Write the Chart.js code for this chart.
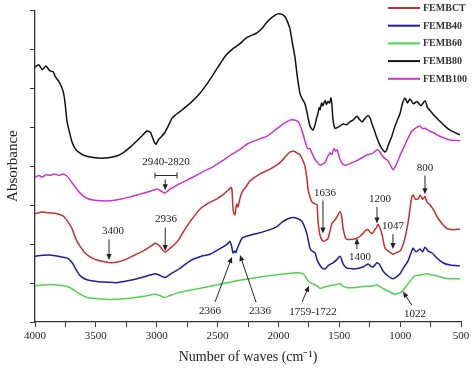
<!DOCTYPE html>
<html lang="en">
<head>
    <meta charset="UTF-8">
    <title>FTIR spectra</title>
    <script src="https://cdn.jsdelivr.net/npm/chart.js"></script>
    <style>
        body { margin: 0; background: #fff; }
        canvas { display: block; }
    </style>
</head>
<body>
    <canvas id="ftir" width="474" height="368"></canvas>

    <script>
        // wavenumbers (cm-1) and absorbance (arbitrary offset units) per sample
        const fembctWave = [4000,3940,3877,3820,3770,3740,3715,3696,3675,3655,3620,3589,3540,3491,3440,3384,3320,3244,3180,3113,3060,3014,2995,2973,2950,2932,2910,2891,2850,2817,2784,2720,2644,2575,2505,2450,2414,2390,2382,2373,2365,2357,2348,2340,2332,2315,2299,2260,2234,2150,2069,1987,1940,1905,1870,1840,1823,1800,1782,1765,1757,1740,1724,1700,1683,1675,1660,1634,1610,1593,1575,1560,1540,1519,1494,1480,1469,1450,1437,1400,1355,1330,1305,1285,1264,1245,1231,1200,1182,1165,1149,1124,1090,1059,1030,1001,980,960,935,919,905,894,875,853,835,815,796,780,755,720,697,650,615,560,508];
        const fembctAbs = [2.78,2.82,2.80,2.78,2.72,2.62,2.50,2.40,2.22,2.07,1.90,1.77,1.66,1.59,1.55,1.52,1.54,1.62,1.72,1.82,1.92,2.02,2.00,1.94,1.85,1.79,1.84,1.89,2.00,2.12,2.30,2.60,2.90,3.05,3.16,3.28,3.38,3.45,3.41,2.90,2.78,2.75,2.95,3.03,2.95,3.18,3.33,3.50,3.62,3.80,3.92,4.09,4.25,4.36,4.38,4.32,4.29,4.15,4.00,3.66,3.41,3.20,3.08,3.03,3.01,2.60,2.25,2.07,2.10,2.14,2.35,2.53,2.60,2.70,2.83,2.70,2.40,2.16,2.12,2.12,2.15,2.20,2.27,2.35,2.37,2.30,2.27,2.40,2.50,2.40,2.25,1.89,1.80,1.74,1.78,1.82,1.95,2.15,2.55,2.90,3.20,3.26,3.15,3.16,3.25,3.15,3.22,3.08,3.01,2.85,2.70,2.50,2.40,2.37,2.38];

        const femb40Wave = [4000,3940,3877,3800,3737,3710,3688,3660,3630,3580,3491,3400,3326,3250,3162,3080,3014,2975,2932,2891,2850,2817,2726,2640,2562,2480,2420,2398,2385,2373,2360,2350,2340,2299,2240,2176,2069,2012,1962,1920,1880,1840,1806,1780,1765,1741,1724,1700,1683,1658,1640,1617,1590,1552,1520,1494,1480,1469,1440,1400,1387,1340,1305,1264,1240,1223,1190,1170,1141,1100,1059,1030,1001,970,935,894,870,837,815,796,770,738,700,648,590,508];
        const femb40Abs = [1.69,1.71,1.72,1.68,1.64,1.58,1.49,1.33,1.19,1.09,1.04,1.02,1.01,1.05,1.11,1.18,1.24,1.20,1.14,1.22,1.30,1.36,1.57,1.68,1.74,1.88,2.00,2.07,1.95,1.77,1.82,1.78,1.87,2.15,2.22,2.27,2.37,2.45,2.58,2.65,2.68,2.65,2.58,2.40,2.25,1.90,1.82,1.78,1.60,1.45,1.38,1.36,1.45,1.52,1.60,1.69,1.60,1.49,1.38,1.37,1.36,1.38,1.41,1.49,1.43,1.41,1.52,1.48,1.31,1.18,1.11,1.16,1.24,1.40,1.57,1.89,1.80,1.87,1.80,1.92,1.82,1.77,1.65,1.52,1.46,1.44];

        const femb60Wave = [4000,3940,3877,3800,3737,3700,3655,3610,3573,3500,3408,3300,3219,3100,3014,2975,2932,2891,2817,2720,2620,2480,2340,2200,2069,1960,1880,1830,1798,1775,1757,1720,1683,1658,1620,1576,1530,1494,1470,1437,1380,1305,1240,1190,1160,1141,1090,1042,1010,984,960,935,905,878,840,815,779,740,697,640,590,508];
        const femb60Abs = [0.93,0.95,0.96,0.94,0.91,0.86,0.76,0.68,0.63,0.60,0.58,0.59,0.61,0.66,0.71,0.68,0.63,0.68,0.76,0.82,0.88,0.97,1.06,1.13,1.19,1.23,1.26,1.26,1.24,1.15,1.06,0.98,0.93,0.86,0.90,0.93,0.96,0.98,0.92,0.88,0.88,0.91,0.92,0.95,0.90,0.86,0.78,0.71,0.74,0.78,0.88,0.98,1.10,1.19,1.20,1.22,1.24,1.21,1.18,1.13,1.11,1.11];

        const femb80Wave = [4000,3970,3940,3910,3880,3850,3836,3800,3770,3754,3737,3715,3696,3670,3647,3600,3523,3450,3384,3330,3277,3220,3162,3120,3080,3050,3039,3020,3006,2985,2957,2935,2915,2891,2874,2850,2817,2726,2650,2587,2530,2480,2430,2382,2320,2258,2176,2130,2094,2050,2012,1975,1946,1925,1905,1885,1864,1845,1823,1800,1782,1760,1741,1716,1700,1685,1675,1665,1658,1645,1635,1617,1605,1593,1580,1568,1560,1552,1535,1500,1469,1440,1410,1387,1355,1335,1313,1290,1264,1245,1231,1210,1190,1160,1124,1110,1100,1070,1042,1020,1001,980,960,940,919,890,862,830,796,775,755,720,673,630,590,550,508];
        const femb80Abs = [6.54,6.60,6.48,6.57,6.45,6.42,6.31,6.15,5.93,5.65,5.15,4.85,4.62,4.45,4.37,4.28,4.22,4.20,4.22,4.26,4.34,4.48,4.65,4.78,4.90,4.86,4.77,4.62,4.56,4.68,4.77,4.85,4.97,5.12,5.23,5.30,5.38,5.61,5.85,6.11,6.38,6.62,6.85,6.99,7.13,7.30,7.42,7.55,7.70,7.82,7.90,7.90,7.83,7.70,7.52,7.15,6.79,6.30,5.86,5.70,5.60,5.30,5.03,4.92,5.05,5.25,5.35,5.50,5.45,5.62,5.55,5.68,5.58,5.66,5.62,5.75,5.55,5.20,4.97,5.02,5.08,5.06,5.14,5.18,5.28,5.20,5.13,5.22,5.30,5.22,5.08,4.90,4.72,4.50,4.36,4.42,4.52,4.75,5.03,5.20,5.35,5.62,5.75,5.62,5.72,5.60,5.66,5.55,5.68,5.50,5.43,5.30,5.15,5.02,4.92,4.86,4.80];

        const femb100Wave = [4000,3970,3940,3910,3877,3840,3800,3770,3737,3715,3688,3650,3614,3570,3523,3450,3384,3300,3219,3150,3080,3030,2998,2965,2932,2910,2891,2850,2817,2700,2620,2538,2460,2398,2320,2250,2170,2094,2045,1987,1940,1905,1870,1839,1823,1800,1780,1760,1741,1720,1700,1680,1658,1635,1617,1595,1576,1560,1545,1530,1519,1505,1494,1470,1453,1400,1355,1310,1272,1230,1190,1170,1149,1120,1100,1080,1059,1035,1001,960,930,903,870,837,815,796,760,720,697,640,590,550,508];
        const femb100Abs = [3.71,3.76,3.72,3.78,3.76,3.80,3.76,3.80,3.74,3.66,3.54,3.38,3.26,3.17,3.13,3.11,3.11,3.15,3.21,3.27,3.33,3.38,3.41,3.36,3.31,3.36,3.41,3.48,3.54,3.72,3.86,3.98,4.14,4.27,4.42,4.58,4.68,4.77,4.88,5.02,5.12,5.18,5.18,5.14,5.05,4.85,4.62,4.45,4.45,4.30,4.17,4.10,4.02,4.06,4.09,4.25,4.34,4.30,4.45,4.38,4.42,4.30,4.17,4.05,4.02,4.08,4.14,4.22,4.29,4.32,4.42,4.38,4.27,4.18,4.14,4.02,3.91,4.02,4.27,4.55,4.75,4.90,4.98,5.03,4.96,4.97,4.90,4.85,4.80,4.72,4.67,4.66,4.65];

        const seriesNames = ['FEMBCT', 'FEMB40', 'FEMB60', 'FEMB80', 'FEMB100'];
        const seriesColors = ['#c4302b', '#1e1e96', '#4fd24f', '#111111', '#cc33cc'];
        const seriesWaves = [fembctWave, femb40Wave, femb60Wave, femb80Wave, femb100Wave];
        const seriesAbs = [fembctAbs, femb40Abs, femb60Abs, femb80Abs, femb100Abs];

        const xTicks = [4000, 3500, 3000, 2500, 2000, 1500, 1000, 500];

        // peak labels: text position and arrow (tail -> head) in data units
        const peakNotes = [
            { text: '3400', at: [3360, 2.32], from: [3392, 2.12], to: [3392, 1.59] },
            { text: '2936', at: [2924, 2.65], from: [2930, 2.42], to: [2930, 1.82] },
            { text: '2940-2820', at: [2924, 4.09], from: [2930, 3.66], to: [2930, 3.38] },
            { text: '1636', at: [1617, 3.31], from: [1634, 3.11], to: [1634, 2.27] },
            { text: '1200', at: [1166, 3.16], from: [1190, 2.95], to: [1190, 2.53] },
            { text: '1047', at: [1059, 2.45], from: [1059, 2.25], to: [1059, 1.87] },
            { text: '1400', at: [1330, 1.67], from: [1355, 1.87], to: [1355, 2.15] },
            { text: '800', at: [796, 3.94], from: [796, 3.76], to: [796, 3.28] },
            { text: '2366', at: [2562, 0.28], from: [2521, 0.51], to: [2382, 1.67] },
            { text: '2336', at: [2151, 0.28], from: [2184, 0.51], to: [2316, 1.72] },
            { text: '1759-1722', at: [1716, 0.25], from: [1806, 0.51], to: [1749, 0.93] },
            { text: '1022', at: [878, 0.20], from: [903, 0.43], to: [977, 0.78] }
        ];
        const bracket = { from: 3014, to: 2833, y: 3.76 };

        const serif = '"Liberation Serif", "Times New Roman", serif';

        const drawArrow = (ctx, x1, y1, x2, y2) => {
            const ang = Math.atan2(y2 - y1, x2 - x1);
            const len = 6, half = 2.6;
            ctx.beginPath();
            ctx.moveTo(x1, y1);
            ctx.lineTo(x2 - Math.cos(ang) * len * 0.8, y2 - Math.sin(ang) * len * 0.8);
            ctx.stroke();
            ctx.beginPath();
            ctx.moveTo(x2, y2);
            ctx.lineTo(x2 - Math.cos(ang) * len + Math.sin(ang) * half, y2 - Math.sin(ang) * len - Math.cos(ang) * half);
            ctx.lineTo(x2 - Math.cos(ang) * len - Math.sin(ang) * half, y2 - Math.sin(ang) * len + Math.cos(ang) * half);
            ctx.closePath();
            ctx.fill();
        };

        const notesPlugin = {
            id: 'notes',
            afterDatasetsDraw(chart) {
                const { ctx, scales: { x, y } } = chart;
                ctx.save();
                ctx.strokeStyle = '#222';
                ctx.fillStyle = '#222';
                ctx.lineWidth = 1;
                ctx.font = '11px ' + serif;
                ctx.textAlign = 'center';
                ctx.textBaseline = 'middle';
                peakNotes.forEach(n => {
                    ctx.fillText(n.text, x.getPixelForValue(n.at[0]), y.getPixelForValue(n.at[1]));
                    drawArrow(ctx,
                        x.getPixelForValue(n.from[0]), y.getPixelForValue(n.from[1]),
                        x.getPixelForValue(n.to[0]), y.getPixelForValue(n.to[1]));
                });
                // bracket over the 2940-2820 band
                const bx1 = x.getPixelForValue(bracket.from);
                const bx2 = x.getPixelForValue(bracket.to);
                const by = y.getPixelForValue(bracket.y);
                ctx.beginPath();
                ctx.moveTo(bx1, by); ctx.lineTo(bx2, by);
                ctx.moveTo(bx1, by - 3); ctx.lineTo(bx1, by + 3);
                ctx.moveTo(bx2, by - 3); ctx.lineTo(bx2, by + 3);
                ctx.stroke();

                // legend, top right
                ctx.font = 'bold 10px ' + serif;
                ctx.textAlign = 'left';
                chart.data.datasets.forEach((ds, i) => {
                    const ly = 8 + i * 17.7;
                    ctx.strokeStyle = ds.borderColor;
                    ctx.lineWidth = 2;
                    ctx.beginPath();
                    ctx.moveTo(388, ly); ctx.lineTo(420, ly);
                    ctx.stroke();
                    ctx.fillStyle = '#333';
                    ctx.fillText(ds.label, 423, ly + 0.5);
                });
                ctx.restore();
            }
        };

        const datasets = seriesNames.map((name, i) => ({
            label: name,
            data: seriesWaves[i].map((w, k) => ({ x: w, y: seriesAbs[i][k] })),
            borderColor: seriesColors[i],
            borderWidth: 1.5,
            pointRadius: 0,
            tension: 0.2,
            fill: false
        }));

        new Chart(document.getElementById('ftir'), {
            type: 'line',
            data: { datasets },
            options: {
                responsive: false,
                animation: false,
                layout: { padding: { left: 0, top: 5, right: 13, bottom: 0 } },
                plugins: { legend: { display: false }, tooltip: { enabled: false } },
                scales: {
                    x: {
                        type: 'linear',
                        reverse: true,
                        min: 500,
                        max: 4000,
                        afterFit: s => { s.height = 46; },
                        afterBuildTicks: s => {
                            s.ticks = [];
                            for (let v = 500; v <= 4000; v += 250) s.ticks.push({ value: v });
                        },
                        ticks: {
                            autoSkip: false,
                            maxRotation: 0,
                            padding: 3,
                            color: '#222',
                            font: { family: serif, size: 11 },
                            callback: v => xTicks.includes(v) ? String(v) : ''
                        },
                        grid: { drawOnChartArea: false, tickLength: 5, color: '#333', lineWidth: 1 },
                        border: { color: '#333', width: 1.3 },
                        title: {
                            display: true,
                            text: 'Number of waves (cm\u207B\u00B9)',
                            color: '#222',
                            font: { family: serif, size: 14 },
                            padding: { top: 0, bottom: 2 }
                        }
                    },
                    y: {
                        min: 0,
                        max: 8,
                        afterFit: s => { s.width = 35; },
                        ticks: { stepSize: 1, callback: () => '' },
                        grid: { drawOnChartArea: false, tickLength: 5, color: '#333', lineWidth: 1 },
                        border: { color: '#333', width: 1.3 },
                        title: {
                            display: true,
                            text: 'Absorbance',
                            color: '#222',
                            font: { family: serif, size: 15 },
                            padding: { top: 4, bottom: 0 }
                        }
                    }
                }
            },
            plugins: [notesPlugin]
        });
    </script>
</body>
</html>
